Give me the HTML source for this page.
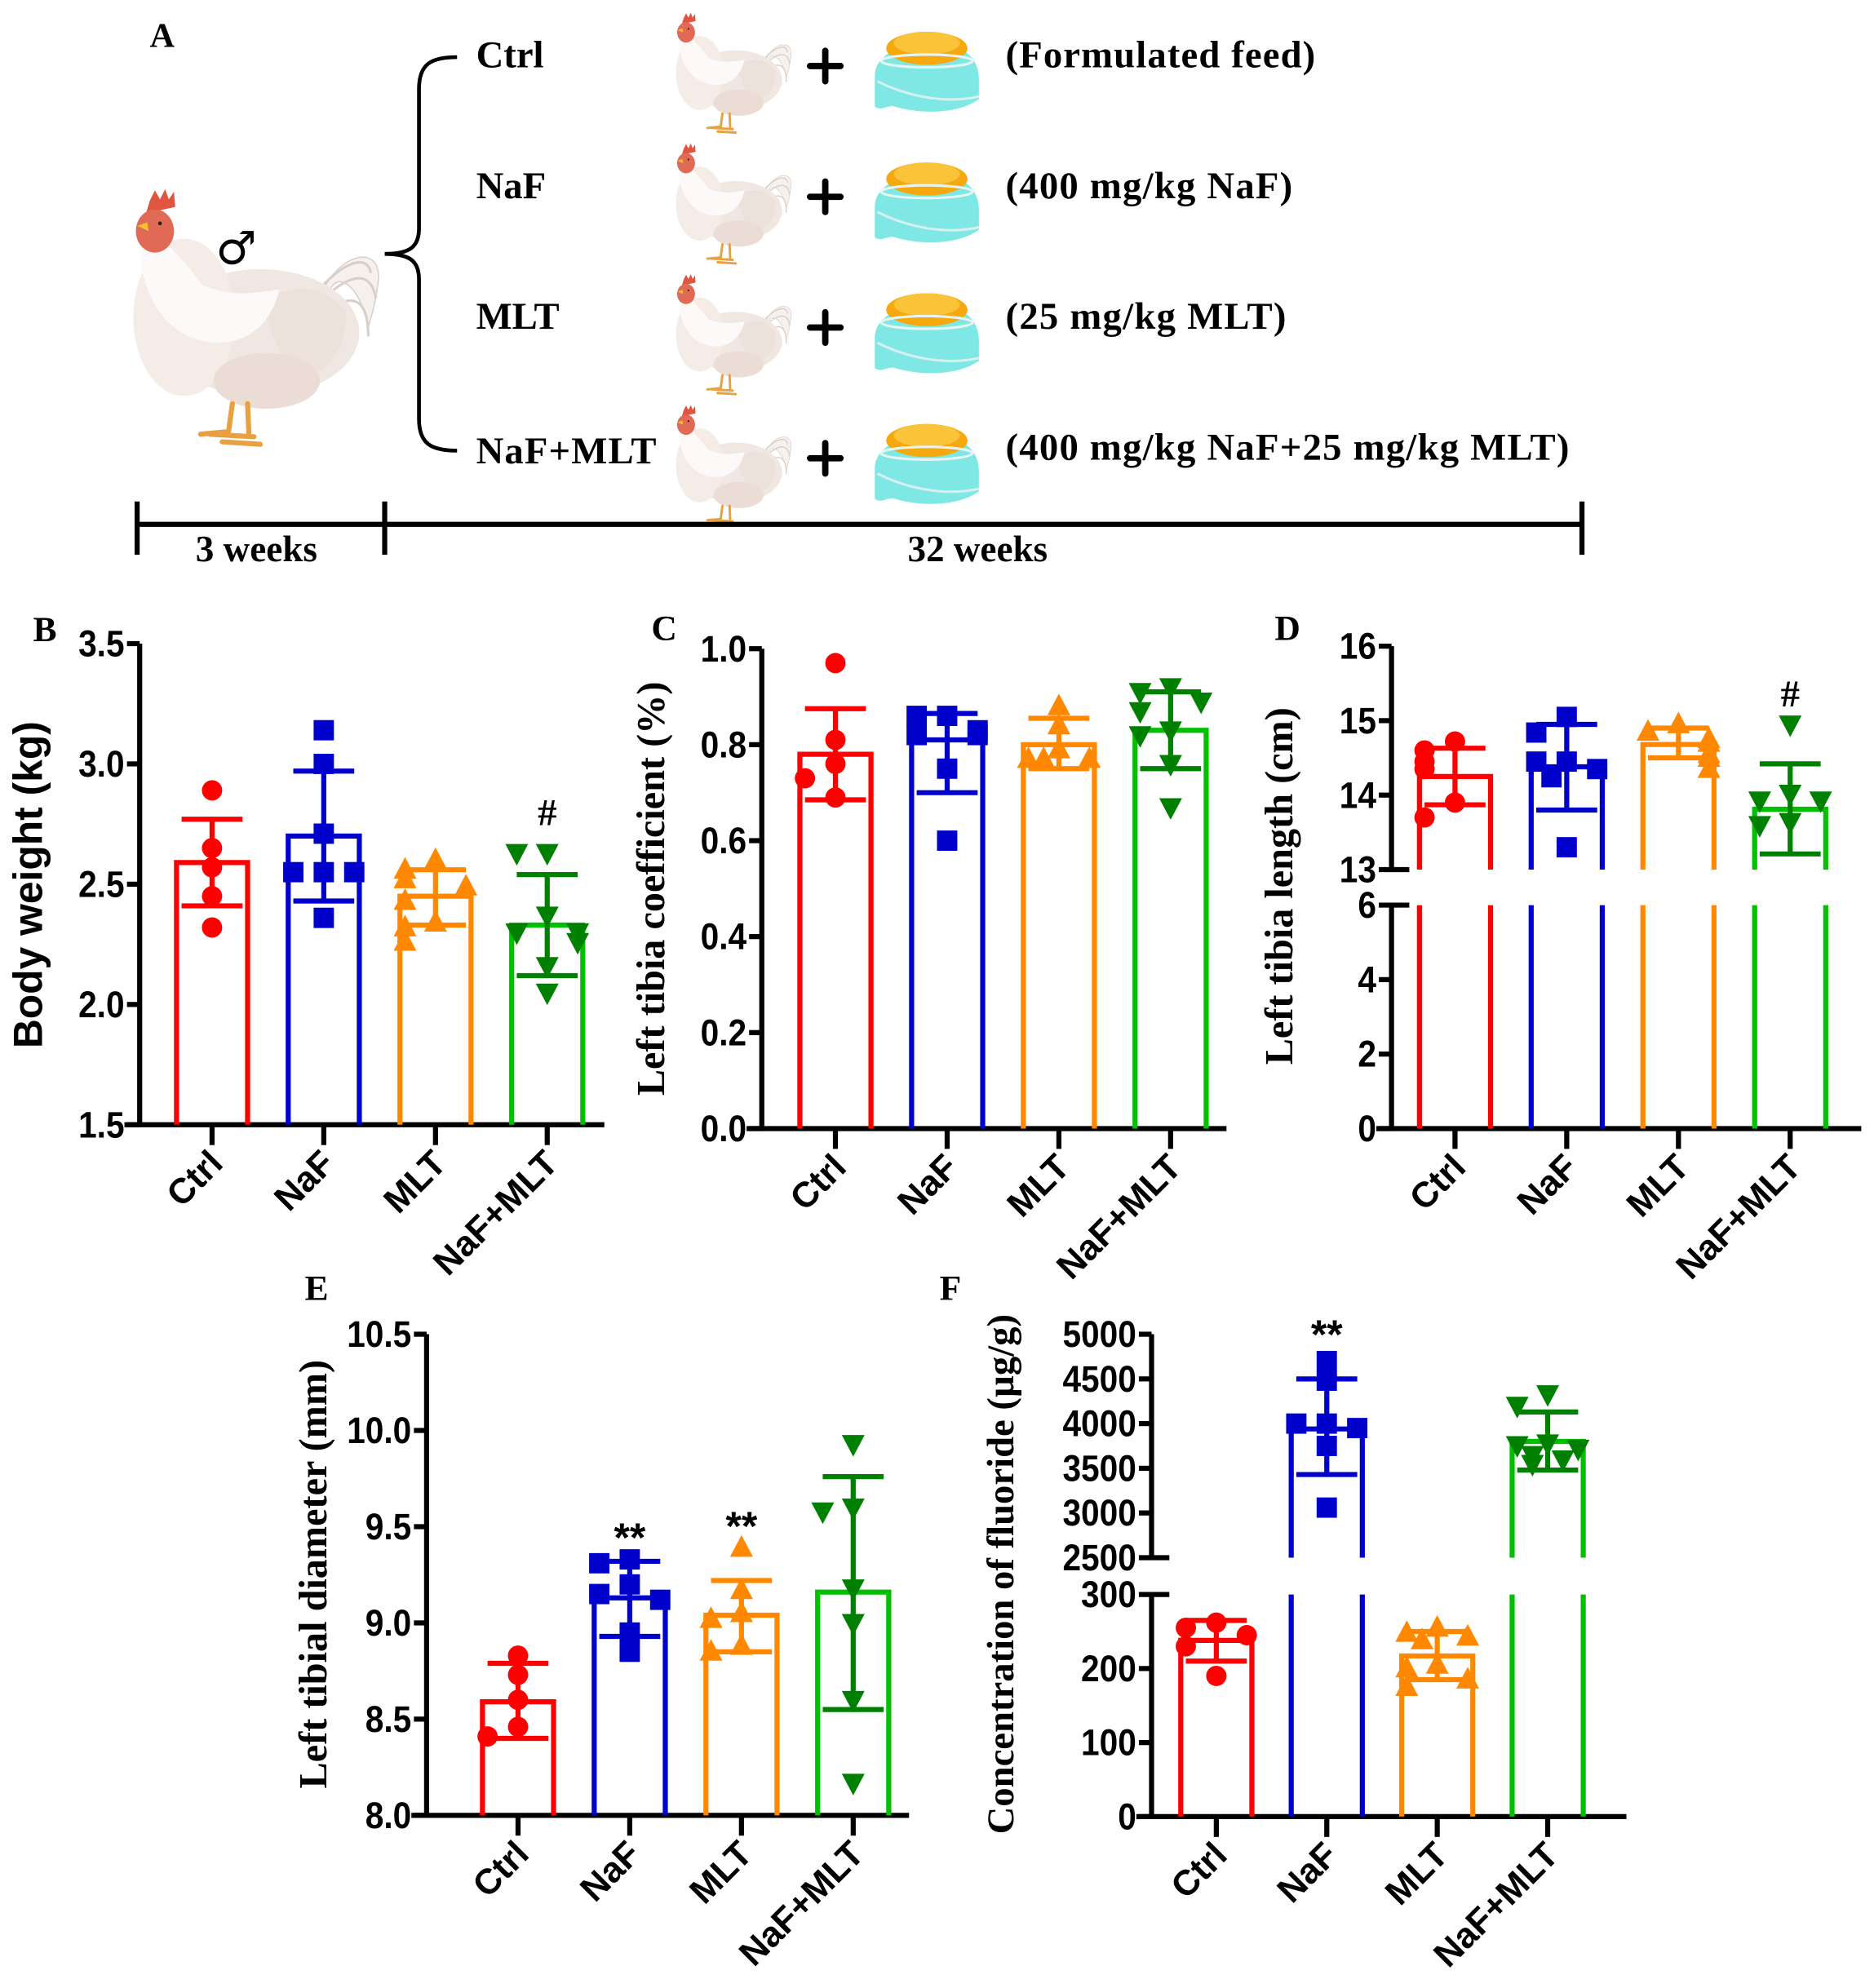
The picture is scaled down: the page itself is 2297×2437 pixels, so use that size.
<!DOCTYPE html>
<html><head><meta charset="utf-8">
<style>
html,body{margin:0;padding:0;background:#fff;}
svg{display:block;}
.serif{font-family:"Liberation Serif",serif;font-weight:bold;}
.sans{font-family:"Liberation Sans",sans-serif;font-weight:bold;}
</style></head>
<body>
<svg id="fig" width="2297" height="2437" viewBox="0 0 1476 1566" xmlns="http://www.w3.org/2000/svg">
<defs>
<g id="chicken">
  <path d="M250,240 C262,200 300,190 298,220 C296,240 292,250 290,258 C285,230 270,215 262,225 Z" fill="#f7f1ee" stroke="#d8d0cc" stroke-width="1"/>
  <path d="M248,232 C270,205 290,200 292,215 M252,238 C275,215 292,212 296,235 M256,245 C278,230 290,235 290,265" fill="none" stroke="#d8cfca" stroke-width="2"/>
  <ellipse cx="205" cy="262" rx="78" ry="50" fill="#f1e7e2"/>
  <path d="M205,240 C230,220 255,225 272,245 C275,270 262,295 230,300 Z" fill="#ede1db"/>
  <ellipse cx="145" cy="250" rx="40" ry="62" fill="#f5ece8"/>
  <path d="M110,185 C125,180 140,200 160,225 C185,235 205,230 220,228 C215,250 200,270 170,270 C130,268 108,230 110,185 Z" fill="#fcf9f8"/>
  <ellipse cx="210" cy="300" rx="42" ry="22" fill="#ebddd6"/>
  <path d="M118,158 L122,150 L126,157 L130,149 L133,157 L137,151 L138,163 L115,168 Z" fill="#e05540"/>
  <ellipse cx="122" cy="182" rx="15" ry="17" fill="#e06a55"/>
  <path d="M108,178 L116,175 L117,182 Z" fill="#f2c030"/>
  <circle cx="126" cy="176" r="1.5" fill="#222"/>
  <path d="M183,318 L180,340 M195,318 L196,342 M165,342 L200,344 M175,348 L205,350 M180,340 L158,342" fill="none" stroke="#e8a040" stroke-width="4" stroke-linecap="round"/>
</g>
<g id="bowl">
  <path d="M4,42 C4,20 40,14 44,14 C60,14 86,20 86,44 L86,60 C70,72 40,72 20,66 C14,64 10,70 4,66 Z" fill="#7fe8e4"/>
  <path d="M6,46 C30,58 60,64 86,58" fill="none" stroke="#d5f0ee" stroke-width="2"/>
  <ellipse cx="45" cy="20" rx="32" ry="13" fill="#f5a90f"/>
  <ellipse cx="45" cy="16" rx="26" ry="9" fill="#f9c33a"/>
  <ellipse cx="45" cy="30" rx="36" ry="5" fill="none" stroke="#e8f4f4" stroke-width="2"/>
</g>
</defs>

<g>
<text class="serif" x="118" y="37" font-size="27">A</text>
<use href="#chicken"/>
<text x="186" y="208" font-size="36" text-anchor="middle" font-family="DejaVu Sans, sans-serif">♂</text>
<path d="M360,45 C340,45 330,50 330,70 L330,180 C330,195 322,200 303,200 C322,200 330,205 330,220 L330,330 C330,350 340,355 360,355" fill="none" stroke="#000" stroke-width="3"/>
<g class="serif" font-size="30">
<text x="375" y="53">Ctrl</text>
<text x="375" y="156">NaF</text>
<text x="375" y="259">MLT</text>
<text x="375" y="365" textLength="142">NaF+MLT</text>
<text x="792" y="53" textLength="244">(Formulated feed)</text>
<text x="792" y="156" textLength="226">(400 mg/kg NaF)</text>
<text x="792" y="259" textLength="221">(25 mg/kg MLT)</text>
<text x="792" y="362" textLength="444">(400 mg/kg NaF+25 mg/kg MLT)</text>
</g>
<g>
<use href="#chicken" transform="translate(483,-60) scale(0.47)"/>
<use href="#chicken" transform="translate(483,43) scale(0.47)"/>
<use href="#chicken" transform="translate(483,146) scale(0.47)"/>
<use href="#chicken" transform="translate(483,249) scale(0.47)"/>
<use href="#bowl" transform="translate(685,18)"/>
<use href="#bowl" transform="translate(685,121)"/>
<use href="#bowl" transform="translate(685,224)"/>
<use href="#bowl" transform="translate(685,327)"/>
<g stroke="#000" stroke-width="5" stroke-linecap="round">
<path d="M638,52 H662 M650,40 V64"/><path d="M638,155 H662 M650,143 V167"/><path d="M638,258 H662 M650,246 V270"/><path d="M638,361 H662 M650,349 V373"/>
</g>
</g>
<g stroke="#000" stroke-width="4">
<path d="M108,413 H1246 M108,395 V437 M303,395 V437 M1246,395 V437"/>
</g>
<text class="serif" x="202" y="442" font-size="29" text-anchor="middle">3 weeks</text>
<text class="serif" x="770" y="442" font-size="29" text-anchor="middle">32 weeks</text>
</g>

<g class="serif" font-size="28">
<text x="26" y="505">B</text>
<text x="513" y="504">C</text>
<text x="1004" y="504">D</text>
<text x="240" y="1024">E</text>
<text x="740" y="1024">F</text>
</g>
<g id="charts"></g>
</svg>

<script>
const cats = ["Ctrl","NaF","MLT","NaF+MLT"];
// Panel B: body weight (kg)
const bMeans = [2.59, 2.70, 2.45, 2.33];
const bHi = [2.77, 2.97, 2.56, 2.54];
const bLo = [2.41, 2.43, 2.33, 2.12];
const bPts = [[2.89,2.65,2.57,2.45,2.32],[3.14,3.00,2.71,2.55,2.55,2.55,2.36],[2.60,2.56,2.52,2.49,2.43,2.34,2.32,2.26],[2.63,2.63,2.37,2.30,2.30,2.26,2.16,2.05]];
const bTicks = [1.5,2.0,2.5,3.0,3.5];
const bTickLabels = ["1.5","2.0","2.5","3.0","3.5"];
// Panel C: left tibia coefficient (%)
const cMeans = [0.78, 0.81, 0.80, 0.83];
const cHi = [0.875, 0.865, 0.855, 0.91];
const cLo = [0.685, 0.70, 0.75, 0.75];
const cPts = [[0.97,0.81,0.76,0.73,0.69],[0.86,0.86,0.83,0.82,0.82,0.75,0.60],[0.88,0.84,0.79,0.77,0.77,0.77],[0.92,0.91,0.89,0.87,0.83,0.82,0.76,0.67]];
const cTicks = [0,0.2,0.4,0.6,0.8,1.0];
const cTickLabels = ["0.0","0.2","0.4","0.6","0.8","1.0"];
// Panel D: left tibia length (cm)
const dMeans = [14.25, 14.38, 14.68, 13.81];
const dHi = [14.63, 14.95, 14.90, 14.42];
const dLo = [13.87, 13.80, 14.50, 13.21];
const dPts = [[14.72,14.6,14.45,14.35,13.9,13.7],[15.05,14.84,14.45,14.45,14.35,14.24,13.3],[14.95,14.85,14.75,14.7,14.55,14.5,14.35],[14.95,14.02,13.93,13.93,13.64,13.6]];
const dTicks = [0,2,4,6,13,14,15,16];
const dTickLabels = ["0","2","4","6","13","14","15","16"];
// Panel E: left tibial diameter (mm)
const eMeans = [8.59, 9.13, 9.04, 9.16];
const eHi = [8.79, 9.32, 9.22, 9.76];
const eLo = [8.40, 8.93, 8.85, 8.55];
const ePts = [[8.83,8.73,8.60,8.46,8.41],[9.33,9.31,9.20,9.15,9.12,8.95,8.85],[9.39,9.17,9.05,9.02,8.88,8.85],[9.93,9.60,9.58,9.18,9.0,8.60,8.17]];
const eTicks = [8.0,8.5,9.0,9.5,10.0,10.5];
const eTickLabels = ["8.0","8.5","9.0","9.5","10.0","10.5"];
// Panel F: fluoride concentration (µg/g)
const fMeans = [238, 3940, 217, 3800];
const fHi = [265, 4500, 250, 4130];
const fLo = [210, 3430, 185, 3480];
const fPts = [[262,255,245,230,190],[4700,4480,4000,4000,3950,3750,3060],[255,248,243,238,205,200,185,175],[4330,4200,3780,3760,3720,3650,3600,3550]];
const fTicks = [0,100,200,300,2500,3000,3500,4000,4500,5000];
const fTickLabels = ["0","100","200","300","2500","3000","3500","4000","4500","5000"];

const barCol = ["#ff0000","#0000cc","#ff8800","#00c000"];
const markCol = ["#ff0000","#0000cc","#ff8800","#008000"];
const NS = "http://www.w3.org/2000/svg";
const root = document.getElementById("charts");

function mk(tag, attrs, parent){
  const e = document.createElementNS(NS, tag);
  for (const k in attrs) e.setAttribute(k, attrs[k]);
  parent.appendChild(e);
  return e;
}

function scaleFor(p){
  if (!p.brk) return v => p.yBot - (v - p.min) / (p.max - p.min) * (p.yBot - p.yTop);
  const b = p.brk;
  return v => {
    if (v <= b.lowMax) return p.yBot - (v - p.min) / (b.lowMax - p.min) * (p.yBot - b.yLowTop);
    return b.yHighBot - (v - b.highMin) / (p.max - b.highMin) * (b.yHighBot - p.yTop);
  };
}

function marker(g, kind, x, y, col){
  let m;
  if (kind === 0) m = mk("circle", {cx:x, cy:y, r:8, fill:col}, g);
  else if (kind === 1) m = mk("rect", {x:x-8, y:y-8, width:16, height:16, fill:col}, g);
  else if (kind === 2) m = mk("path", {d:`M${x},${y-10} L${x+9},${y+7} L${x-9},${y+7} Z`, fill:col}, g);
  else m = mk("path", {d:`M${x},${y+10} L${x+9},${y-7} L${x-9},${y-7} Z`, fill:col}, g);
  return m;
}

function drawPanel(p, means, hi, lo, pts, ticks, tickLabels){
  const g = mk("g", {}, root);
  
  
  const y = scaleFor(p);
  const ax = p.ax;
  const yax = mk("path", {d: p.brk ? `M${ax},${p.yTop} V${p.brk.yHighBot} M${ax},${p.brk.yLowTop} V${p.yBot}` : `M${ax},${p.yTop} V${p.yBot}`, stroke:"#000", "stroke-width":4, fill:"none"}, g);
  
  
  ticks.forEach((t,i) => {
    const ty = y(t);
    const brkTick = p.brk && (t === p.brk.lowMax || t === p.brk.highMin);
    mk("path", {d:`M${ax-10},${ty} H${brkTick ? ax+14 : ax}`, stroke:"#000", "stroke-width":4}, g);
    const tl = mk("text", {x:ax-12, y:ty+10, "text-anchor":"end", "font-size":p.tickFs || 29, class:"sans", transform:`translate(${(ax-12)*0.1},0) scale(0.9,1)`}, g);
    tl.textContent = tickLabels[i];
    
    
  });
  const xax = mk("path", {d:`M${ax-12},${p.yBot} H${p.xEnd}`, stroke:"#000", "stroke-width":4}, g);
  
  
  const yt = mk("text", {x:p.titleX, y:p.titleY, "text-anchor":"middle", "font-size":p.titleFs, class:p.titleCls, transform:`rotate(-90 ${p.titleX} ${p.titleY})`}, g);
  yt.textContent = p.title;
  
  
  const bw = 56;
  cats.forEach((c,i) => {
    const cx = p.x0 + i * p.dx;
    const l = cx - bw/2, r = cx + bw/2;
    const my = y(means[i]);
    let d;
    if (p.brk && means[i] > p.brk.lowMax) {
      d = `M${l},${p.brk.yHighBot} V${my} H${r} V${p.brk.yHighBot} M${l},${p.brk.yLowTop} V${p.yBot} M${r},${p.brk.yLowTop} V${p.yBot}`;
    } else {
      d = `M${l},${p.yBot} V${my} H${r} V${p.yBot}`;
    }
    const bar = mk("path", {d, fill:"none", stroke:barCol[i], "stroke-width":4}, g);
    
    
    mk("path", {d:`M${cx},${p.yBot} V${p.yBot+16}`, stroke:"#000", "stroke-width":4}, g);
    const xl = mk("text", {x:cx+10, y:p.yBot+32, "text-anchor":"end", "font-size":28, class:"sans", transform:`rotate(-45 ${cx+10} ${p.yBot+32})`}, g);
    xl.textContent = c;
    
    
    const placed = [];
    pts[i].forEach(v => {
      const py = y(v);
      let k = placed.filter(q => Math.abs(q - py) < 14).length;
      placed.push(py);
      const off = [0,-24,24,-12,12,-34,34][k % 7];
      const m = marker(g, i, cx + off, py, markCol[i]);
      
      
    });
    const hy = y(hi[i]), ly = y(lo[i]);
    const eb = mk("path", {d:`M${cx},${hy} V${ly} M${cx-24},${hy} H${cx+24} M${cx-24},${ly} H${cx+24}`, stroke:markCol[i], "stroke-width":4, fill:"none"}, g);
    
    
    if (p.sig && p.sig[i]) {
      const topY = Math.min(hy, y(Math.max(...pts[i])) - 10);
      const st = mk("text", {x:cx, y:topY - (p.sigGap||0), "text-anchor":"middle", "font-size":p.sig[i]==="#"?30:32, class:p.sig[i]==="#"?"serif":"sans"}, g);
      st.textContent = p.sig[i];
      
      
    }
  });
}

drawPanel({name:"panel-b-body-weight", ax:110, yTop:507, yBot:886, min:1.5, max:3.5, xEnd:476, x0:167, dx:88,
  title:"Body weight (kg)", titleX:33, titleY:697, titleFs:32, titleCls:"sans", sig:[null,null,null,"#"], sigGap:12},
  bMeans, bHi, bLo, bPts, bTicks, bTickLabels);
drawPanel({name:"panel-c-tibia-coefficient", ax:600, yTop:511, yBot:889, min:0, max:1.0, xEnd:966, x0:658, dx:88,
  title:"Left tibia coefficient (%)", titleX:523, titleY:700, titleFs:31, titleCls:"serif"},
  cMeans, cHi, cLo, cPts, cTicks, cTickLabels);
drawPanel({name:"panel-d-tibia-length", ax:1096, yTop:509, yBot:889, min:0, max:16, xEnd:1466, x0:1146, dx:88,
  brk:{lowMax:6, highMin:13, yLowTop:713, yHighBot:685},
  title:"Left tibia length (cm)", titleX:1018, titleY:698, titleFs:31, titleCls:"serif", sig:[null,null,null,"#"], sigGap:4},
  dMeans, dHi, dLo, dPts, dTicks, dTickLabels);
drawPanel({name:"panel-e-tibial-diameter", ax:336, yTop:1051, yBot:1430, min:8.0, max:10.5, xEnd:716, x0:408, dx:88,
  title:"Left tibial diameter (mm)", titleX:257, titleY:1240, titleFs:31, titleCls:"serif", sig:[null,"**","**",null], sigGap:-4},
  eMeans, eHi, eLo, ePts, eTicks, eTickLabels);
drawPanel({name:"panel-f-fluoride", ax:907, yTop:1051, yBot:1431, min:0, max:5000, xEnd:1281, x0:958, dx:87,
  brk:{lowMax:300, highMin:2500, yLowTop:1256, yHighBot:1227},
  title:"Concentration of fluoride (µg/g)", titleX:798, titleY:1240, titleFs:30, titleCls:"serif", sig:[null,"**",null,null], sigGap:0},
  fMeans, fHi, fLo, fPts, fTicks, fTickLabels);
</script>
</body></html>
